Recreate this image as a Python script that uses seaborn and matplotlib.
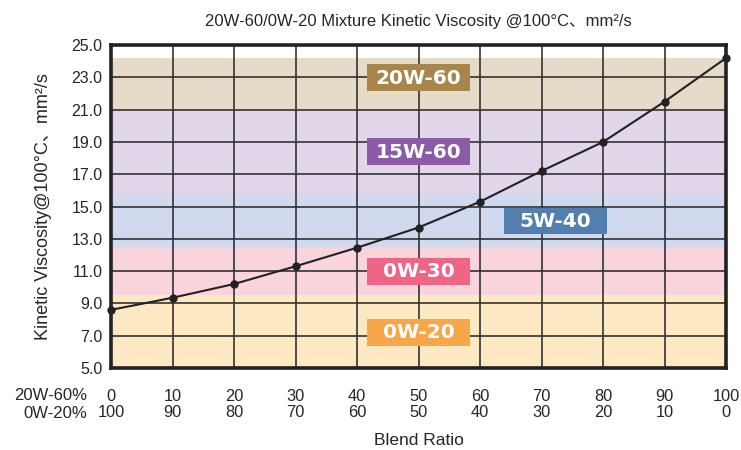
import matplotlib
matplotlib.use("Agg")
import matplotlib.pyplot as plt
from matplotlib.patches import Rectangle
import seaborn as sns
import pandas as pd

# data
ratio_20w60 = [0, 10, 20, 30, 40, 50, 60, 70, 80, 90, 100]
ratio_0w20 = [100, 90, 80, 70, 60, 50, 40, 30, 20, 10, 0]
viscosity = [8.6, 9.35, 10.2, 11.3, 12.45, 13.7, 15.3, 17.2, 19.0, 21.5, 24.2]

band_names = ["0W-20", "0W-30", "5W-40", "15W-60", "20W-60"]
band_low = [5.0, 9.55, 12.5, 15.8, 21.0]
band_high = [9.55, 12.5, 15.8, 21.0, 24.2]
band_fill = ["#fde8c4", "#f9d4dd", "#d0d9ed", "#e2d6ea", "#e6dac8"]
band_box = ["#f8a64a", "#ef6585", "#527eb0", "#8c5ba8", "#a8864a"]
# label placement (x in %, y in mm2/s)
label_x = [50, 50, 72.2, 50, 50]
label_y = [7.22, 11.0, 14.1, 18.4, 23.0]

y_ticks = [5.0, 7.0, 9.0, 11.0, 13.0, 15.0, 17.0, 19.0, 21.0, 23.0, 25.0]

df = pd.DataFrame({"ratio": ratio_20w60, "visc": viscosity})

sns.set_style("white")
plt.rcParams["font.family"] = ["Liberation Sans", "Noto Sans CJK JP"]

fig = plt.figure(figsize=(7.41, 4.5), dpi=100)
ax = fig.add_axes([0.1498, 0.1822, 0.8302, 0.7178])

for lo, hi, c in zip(band_low, band_high, band_fill):
    ax.axhspan(lo, hi, color=c, lw=0, zorder=0)

# label boxes (~103 x 27 px)
bw, bh = 16.7, 1.66
for name, x, y, c in zip(band_names, label_x, label_y, band_box):
    ax.add_patch(Rectangle((x - bw / 2, y - bh / 2), bw, bh, fc=c, ec="none", zorder=4))
    ax.text(x, y - 0.05, name, ha="center", va="center", color="white",
            fontsize=14.5, fontweight="bold", family="DejaVu Sans", zorder=5)

ax.set_xlim(0, 100)
ax.set_ylim(5, 25)
ax.set_yticks(y_ticks)
ax.set_yticklabels([f"{v:.1f}" for v in y_ticks], fontsize=11.5)
ax.set_xticks(ratio_20w60)
ax.set_xticklabels([f"{a}\n{b}" for a, b in zip(ratio_20w60, ratio_0w20)],
                   fontsize=11.8, linespacing=1.12)
ax.tick_params(axis="x", length=0, pad=15)
ax.tick_params(axis="y", length=0, pad=6)
ax.grid(True, color="#333333", lw=1.2, zorder=1)
ax.set_axisbelow(False)
for s in ax.spines.values():
    s.set_color("#222222")
    s.set_linewidth(2.6)
    s.set_zorder(6)

sns.lineplot(data=df, x="ratio", y="visc", ax=ax, color="#222222", lw=1.5,
             marker="o", markersize=6, markeredgewidth=0, zorder=7, clip_on=False)

fig.text(0.117, 0.1222, "20W-60%", ha="right", va="center", fontsize=12)
fig.text(0.117, 0.0822, "0W-20%", ha="right", va="center", fontsize=12)

ax.set_xlabel("Blend Ratio", fontsize=12.5, labelpad=9)
ax.set_ylabel("Kinetic Viscosity@100°C、mm²/s", fontsize=13, labelpad=14)
ax.set_title("20W-60/0W-20 Mixture Kinetic Viscosity @100°C、mm²/s",
             fontsize=12, pad=14)

fig.savefig("out.png", dpi=100)
